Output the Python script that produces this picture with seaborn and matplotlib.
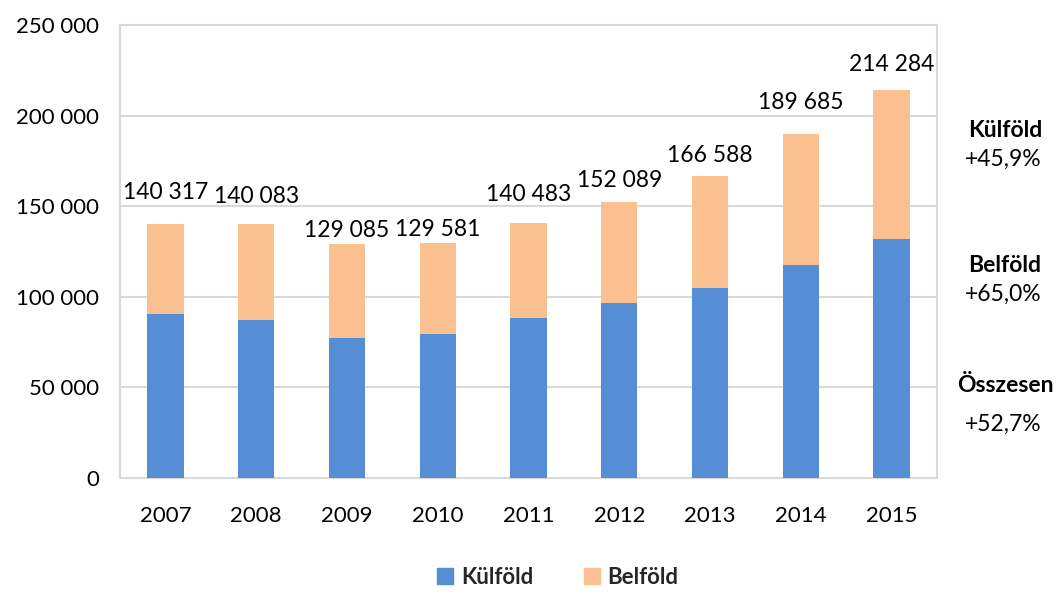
import matplotlib
matplotlib.use("Agg")
import matplotlib.pyplot as plt
import seaborn as sns
import pandas as pd
from matplotlib.patches import Patch

years = ["2007", "2008", "2009", "2010", "2011", "2012", "2013", "2014", "2015"]
kulfold = [90300, 87000, 77100, 79600, 88500, 96700, 105000, 117500, 131750]
belfold = [50017, 53083, 51985, 49981, 51983, 55389, 61588, 72185, 82534]
total_labels = ["140 317", "140 083", "129 085", "129 581", "140 483",
                "152 089", "166 588", "189 685", "214 284"]
yticks = [0, 50000, 100000, 150000, 200000, 250000]
ytick_labels = ["0", "50 000", "100 000", "150 000", "200 000", "250 000"]
side_notes = [("Külföld", "+45,9%"), ("Belföld", "+65,0%"), ("Összesen", "+52,7%")]

# label offsets above bar tops (pixels)
label_offsets_px = [31, 28, 14, 14, 29, 22, 21, 32, 25]

BLUE = "#558ED5"
ORANGE = "#FAC090"
GRID = "#D9D9D9"

sns.set_theme(style="white")
plt.rcParams["font.family"] = ["Lato", "DejaVu Sans"]

df = pd.DataFrame({"year": years, "Külföld": kulfold, "Belföld": belfold})
df["total"] = df["Külföld"] + df["Belföld"]

fig = plt.figure(figsize=(10.59, 6.11), dpi=100)
ax = fig.add_axes([120 / 1059, (611 - 478) / 611, (937 - 120) / 1059, (478 - 25) / 611])

sns.barplot(data=df, x="year", y="total", color=ORANGE, width=0.4, ax=ax,
            saturation=1, edgecolor=ORANGE, linewidth=0, zorder=3)
sns.barplot(data=df, x="year", y="Külföld", color=BLUE, width=0.4, ax=ax,
            saturation=1, edgecolor=BLUE, linewidth=0, zorder=3)

ax.set_ylim(0, 250000)
ax.set_xlim(-0.5, len(years) - 0.5)
ax.set_yticks(yticks)
ax.set_yticklabels(ytick_labels)
ax.set_xlabel("")
ax.set_ylabel("")
ax.tick_params(axis="both", length=0, labelsize=16, colors="#000000")
ax.tick_params(axis="y", pad=15)
ax.tick_params(axis="x", pad=20)
ax.yaxis.grid(True, color=GRID, linewidth=1.5, zorder=0)
ax.set_axisbelow(True)
for s in ax.spines.values():
    s.set_color(GRID)
    s.set_linewidth(1.5)

for i, (tot, lab) in enumerate(zip(df["total"], total_labels)):
    ax.annotate(lab, xy=(i, tot), xytext=(0, label_offsets_px[i] * 0.72),
                textcoords="offset points", ha="center", va="center",
                fontsize=16.5, color="#000000")

note_y = [(131, 159), (266, 294), (386, 424)]
for (title, pct), (y1, y2) in zip(side_notes, note_y):
    fig.text(1005 / 1059, 1 - y1 / 611, title, ha="center", va="center",
             fontsize=16.5, fontweight="bold", color="#000000")
    fig.text(1003 / 1059, 1 - y2 / 611, pct, ha="center", va="center",
             fontsize=16.5, color="#000000")

handles = [Patch(facecolor=BLUE, edgecolor=BLUE, label="Külföld"),
           Patch(facecolor=ORANGE, edgecolor=ORANGE, label="Belföld")]
leg = fig.legend(handles=handles, loc="center", bbox_to_anchor=(558 / 1059, 1 - 577 / 611),
                 ncol=2, frameon=False, handlelength=0.7, handleheight=0.7,
                 handletextpad=0.35, columnspacing=2.3,
                 prop={"size": 16, "weight": "bold"})

fig.savefig("out.png", dpi=100)
